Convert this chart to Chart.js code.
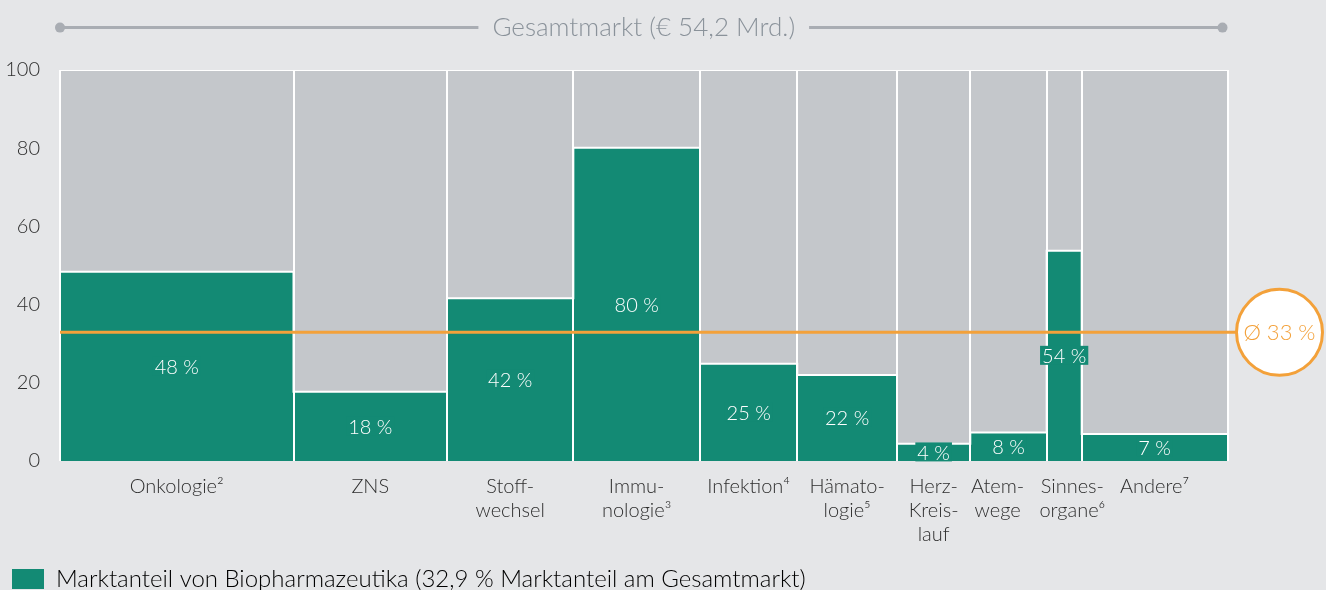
<!DOCTYPE html>
<html>
<head>
<meta charset="utf-8">
<script src="https://cdn.jsdelivr.net/npm/chart.js@4.4.0/dist/chart.umd.min.js"></script>
<style>
  html, body { margin: 0; padding: 0; background: #e5e6e8; }
</style>
</head>
<body>
<canvas id="myChart" width="1326" height="590"></canvas>
<script>
// Therapiegebiete
const categories = [
  ['Onkologie²'], ['ZNS'], ['Stoff-', 'wechsel'], ['Immu-', 'nologie³'], ['Infektion⁴'],
  ['Hämato-', 'logie⁵'], ['Herz-', 'Kreis-', 'lauf'], ['Atem-', 'wege'], ['Sinnes-', 'organe⁶'], ['Andere⁷']
];
// Anteil am Gesamtmarkt in % (Breite der Säulen)
const marketShare = [20.0, 13.15, 10.82, 10.85, 8.33, 8.54, 6.28, 6.54, 3.0, 12.49];
// Anteil Biopharmazeutika in % (Höhe der grünen Säulen)
const bioShare = [48.4, 17.7, 41.6, 80.1, 24.9, 22.0, 4.4, 7.3, 53.8, 6.9];
const bioLabels = ['48 %', '18 %', '42 %', '80 %', '25 %', '22 %', '4 %', '8 %', '54 %', '7 %'];
const yTicks = [0, 20, 40, 60, 80, 100];
const average = 32.9;
const averageLabel = 'Ø 33 %';
const titleText = 'Gesamtmarkt (€ 54,2 Mrd.)';
const legendText = 'Marktanteil von Biopharmazeutika (32,9 % Marktanteil am Gesamtmarkt)';

const GREEN = '#138a74';
const GREY = '#c4c7cb';
const ORANGE = '#f3a13a';
const TEXT = '#2e2e2e';
const FONT = 'Lato, "Open Sans", sans-serif';
const TITLE_PAD = 12;
const TITLE_SIZE = 26;

// Grenzen und Mitten der Säulen aus den Marktanteilen
const starts = [];
let total = 0;
marketShare.forEach(w => { starts.push(total); total += w; });
const bounds = starts.concat([total]);
const centers = starts.map((s, i) => s + marketShare[i] / 2);

const stepData = starts.map((s, i) => ({ x: s, y: bioShare[i] }));
stepData.push({ x: total, y: bioShare[bioShare.length - 1] });

const near = (a, b) => Math.abs(a - b) < 1e-6;
const isBound = v => bounds.some(b => near(b, v));

Chart.defaults.font.family = FONT;
Chart.defaults.font.weight = 300;

// Beschriftungen, Durchschnittslinie und Titel-Linien
const extras = {
  id: 'extras',
  afterDraw(chart) {
    const ctx = chart.ctx;
    const x = chart.scales.x, y = chart.scales.y;
    const area = chart.chartArea;
    ctx.save();
    ctx.textAlign = 'center';
    ctx.textBaseline = 'middle';

    // Werte in den Säulen
    ctx.font = '300 20px ' + FONT;
    centers.forEach((c, i) => {
      const px = x.getPixelForValue(c);
      const py = (y.getPixelForValue(bioShare[i]) + y.getPixelForValue(0)) / 2;
      const w = ctx.measureText(bioLabels[i]).width + 4;
      ctx.fillStyle = GREEN;
      ctx.fillRect(px - w / 2, py - 10, w, 19);
      ctx.fillStyle = '#ffffff';
      ctx.fillText(bioLabels[i], px, py + 1);
    });

    // Durchschnitt
    const ay = y.getPixelForValue(average);
    const r = 43;
    const cx = area.right + 52;
    ctx.strokeStyle = ORANGE;
    ctx.lineWidth = 3;
    ctx.beginPath();
    ctx.moveTo(area.left, ay);
    ctx.lineTo(cx - r, ay);
    ctx.stroke();
    ctx.beginPath();
    ctx.arc(cx, ay, r, 0, Math.PI * 2);
    ctx.fillStyle = '#ffffff';
    ctx.fill();
    ctx.stroke();
    ctx.fillStyle = ORANGE;
    ctx.font = '300 22px ' + FONT;
    ctx.fillText(averageLabel, cx, ay + 1);

    // Linien links und rechts vom Titel
    const tb = chart.titleBlock;
    ctx.font = '300 ' + TITLE_SIZE + 'px ' + FONT;
    const tw = ctx.measureText(titleText).width;
    const tcx = (tb.left + tb.right) / 2;
    const tcy = tb.top + TITLE_PAD + TITLE_SIZE * 1.2 / 2;
    ctx.strokeStyle = '#a9adb3';
    ctx.fillStyle = '#a9adb3';
    ctx.lineWidth = 3;
    ctx.beginPath();
    ctx.moveTo(area.left, tcy);
    ctx.lineTo(tcx - tw / 2 - 14, tcy);
    ctx.moveTo(tcx + tw / 2 + 14, tcy);
    ctx.lineTo(area.right - 5, tcy);
    ctx.stroke();
    [area.left, area.right - 5].forEach(dx => {
      ctx.beginPath();
      ctx.arc(dx, tcy, 5, 0, Math.PI * 2);
      ctx.fill();
    });
    ctx.restore();
  }
};

const ctx = document.getElementById('myChart').getContext('2d');
const myChart = new Chart(ctx, {
  type: 'line',
  data: {
    datasets: [{
      label: legendText,
      data: stepData,
      stepped: true,
      fill: 'origin',
      backgroundColor: GREEN,
      borderColor: '#ffffff',
      borderWidth: 2,
      pointRadius: 0
    }, {
      label: 'Gesamtmarkt',
      data: [{ x: 0, y: 100 }, { x: total, y: 100 }],
      fill: 'origin',
      backgroundColor: GREY,
      borderColor: '#ffffff',
      borderWidth: 2,
      pointRadius: 0
    }]
  },
  options: {
    responsive: false,
    animation: false,
    events: [],
    layout: { padding: { top: 0, left: 0, right: 98.5, bottom: -11 } },
    scales: {
      x: {
        type: 'linear',
        min: 0,
        max: total,
        afterBuildTicks: axis => {
          axis.ticks = bounds.concat(centers).sort((a, b) => a - b).map(v => ({ value: v }));
        },
        afterFit: axis => { axis.height = 94; },
        grid: {
          z: 1,
          color: c => (c.tick && isBound(c.tick.value)) ? '#ffffff' : 'rgba(0,0,0,0)',
          lineWidth: 2,
          drawTicks: false
        },
        border: { display: false },
        ticks: {
          autoSkip: false,
          maxRotation: 0,
          minRotation: 0,
          padding: 14,
          color: TEXT,
          font: { size: 20, lineHeight: 1.2 },
          callback: v => {
            const i = centers.findIndex(c => near(c, v));
            if (i < 0) return '';
            // Atemwege / Sinnesorgane etwas auseinanderrücken
            if (i === 7) return categories[i].map(s => s + '    ');
            if (i === 8) return categories[i].map(s => '   ' + s);
            return categories[i];
          }
        }
      },
      y: {
        min: 0,
        max: 100,
        afterBuildTicks: axis => { axis.ticks = yTicks.map(v => ({ value: v })); },
        afterFit: axis => { axis.width = 60; },
        grid: { display: false, drawTicks: false },
        border: { display: false },
        ticks: { padding: 20, color: TEXT, font: { size: 20 } }
      }
    },
    plugins: {
      title: {
        display: true,
        text: titleText,
        fullSize: false,
        color: '#8a929a',
        font: { size: TITLE_SIZE, weight: 300, lineHeight: 1.2 },
        padding: { top: TITLE_PAD, bottom: 70 - TITLE_PAD - TITLE_SIZE * 1.2 }
      },
      legend: {
        position: 'bottom',
        align: 'start',
        labels: {
          boxWidth: 32,
          boxHeight: 20,
          padding: 12,
          color: TEXT,
          font: { size: 24 },
          generateLabels: () => [{
            text: legendText, fillStyle: GREEN, strokeStyle: GREEN,
            lineWidth: 0, hidden: false, datasetIndex: 0
          }]
        }
      },
      tooltip: { enabled: false }
    }
  },
  plugins: [extras]
});
</script>
</body>
</html>
